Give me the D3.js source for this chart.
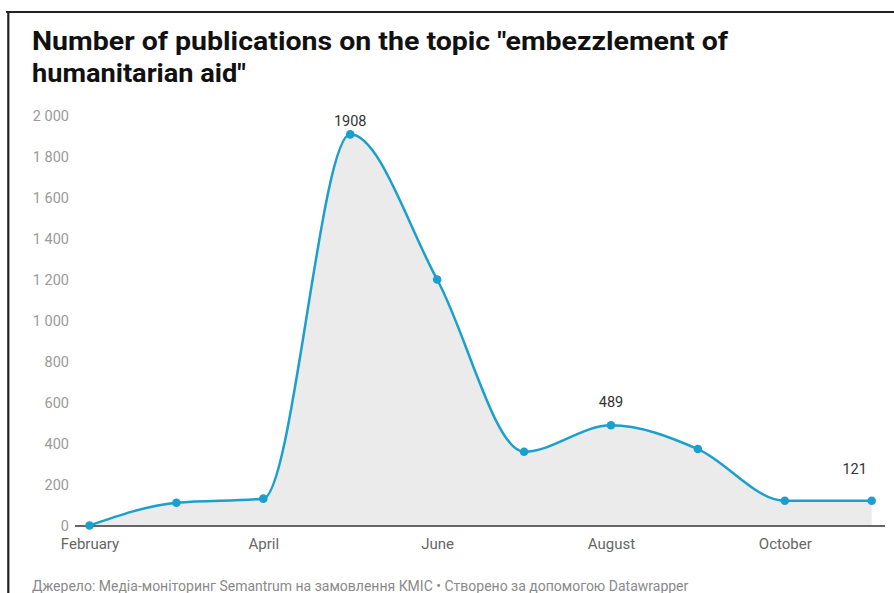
<!DOCTYPE html>
<html>
<head>
<meta charset="utf-8">
<script src="https://cdn.jsdelivr.net/npm/d3@7"></script>
<style>
  html, body { margin: 0; padding: 0; background: #fff; }
  svg { display: block; font-family: Roboto, "Noto Sans", sans-serif; }
</style>
</head>
<body>
<svg id="chart" width="894" height="593"></svg>
<script>
const months = ["February","March","April","May","June","July","August","September","October","November"];
const values = [0, 111, 131, 1908, 1200, 360, 489, 373, 121, 121];
const labeledMonths = ["May","August","November"];
const xTickLabels = ["February","April","June","August","October"];
const yTicks = [0,200,400,600,800,1000,1200,1400,1600,1800,2000];
const titleLines = ["Number of publications on the topic \"embezzlement of", "humanitarian aid\""];
const footer = "Джерело: Медіа-моніторинг Semantrum на замовлення КМІС • Створено за допомогою Datawrapper";

const data = months.map((m, i) => ({ m, v: values[i] }));
const svg = d3.select("#chart");

// frame
svg.append("line").attr("x1", 6).attr("x2", 894).attr("y1", 12).attr("y2", 12)
  .attr("stroke", "#222").attr("stroke-width", 2.2);
svg.append("line").attr("x1", 8.3).attr("x2", 8.3).attr("y1", 11).attr("y2", 593)
  .attr("stroke", "#222").attr("stroke-width", 2.2);

// title
const tl = svg.append("g").attr("font-weight", 700).attr("fill", "#111").attr("font-size", 26);
tl.append("text").attr("x", 32).attr("y", 50).text(titleLines[0])
  .attr("textLength", 696).attr("lengthAdjust", "spacingAndGlyphs");
tl.append("text").attr("x", 32).attr("y", 82).text(titleLines[1])
  .attr("textLength", 214).attr("lengthAdjust", "spacingAndGlyphs");

const x = d3.scalePoint().domain(months).range([89.5, 871.7]);
const y = d3.scaleLinear().domain([0, 2000]).range([525.5, 115.5]);

const fmt = d3.formatLocale({ thousands: " ", grouping: [3], decimal: ".", currency: ["", ""] }).format(",");

// y axis
const ya = svg.append("g").attr("transform", "translate(69,0)")
  .call(d3.axisLeft(y).tickValues(yTicks).tickSize(0).tickPadding(0).tickFormat(fmt));
ya.select(".domain").remove();
ya.selectAll("text").attr("fill", "#9a9a9a").attr("font-size", 14.5).attr("font-family", "Roboto");

// area
const area = d3.area().x(d => x(d.m)).y0(y(0)).y1(d => y(d.v)).curve(d3.curveMonotoneX);
svg.append("path").datum(data).attr("d", area).attr("fill", "#ebebeb");

// baseline
svg.append("line").attr("x1", 75).attr("x2", 885).attr("y1", y(0) + 0.5).attr("y2", y(0) + 0.5)
  .attr("stroke", "#333").attr("stroke-width", 1.3);

// x axis
const xa = svg.append("g").attr("transform", `translate(0,${y(0)})`)
  .call(d3.axisBottom(x).tickValues(xTickLabels).tickSize(0).tickPadding(13));
xa.select(".domain").remove();
xa.selectAll("text").attr("fill", "#666").attr("font-size", 15).attr("font-family", "Roboto");

// line
const line = d3.line().x(d => x(d.m)).y(d => y(d.v)).curve(d3.curveMonotoneX);
svg.append("path").datum(data).attr("d", line).attr("fill", "none")
  .attr("stroke", "#1b9fcc").attr("stroke-width", 2.5);

// dots
svg.selectAll("circle.dot").data(data).enter().append("circle")
  .attr("class", "dot").attr("cx", d => x(d.m)).attr("cy", d => y(d.v)).attr("r", 4.3)
  .attr("fill", "#1b9fcc");

// value labels
const labelDx = { May: 0, August: 0, November: -17 };
const labelDy = { May: -8, August: -18, November: -27 };
svg.selectAll("text.vl").data(data.filter(d => labeledMonths.includes(d.m))).enter().append("text")
  .attr("class", "vl")
  .attr("x", d => x(d.m) + labelDx[d.m])
  .attr("y", d => y(d.v) + labelDy[d.m])
  .attr("text-anchor", "middle")
  .attr("font-size", 14.5).attr("fill", "#333")
  .text(d => d.v);

// footer
svg.append("text").attr("x", 32).attr("y", 591).attr("font-size", 14).attr("fill", "#8a8a8a")
  .text(footer);
</script>
</body>
</html>
